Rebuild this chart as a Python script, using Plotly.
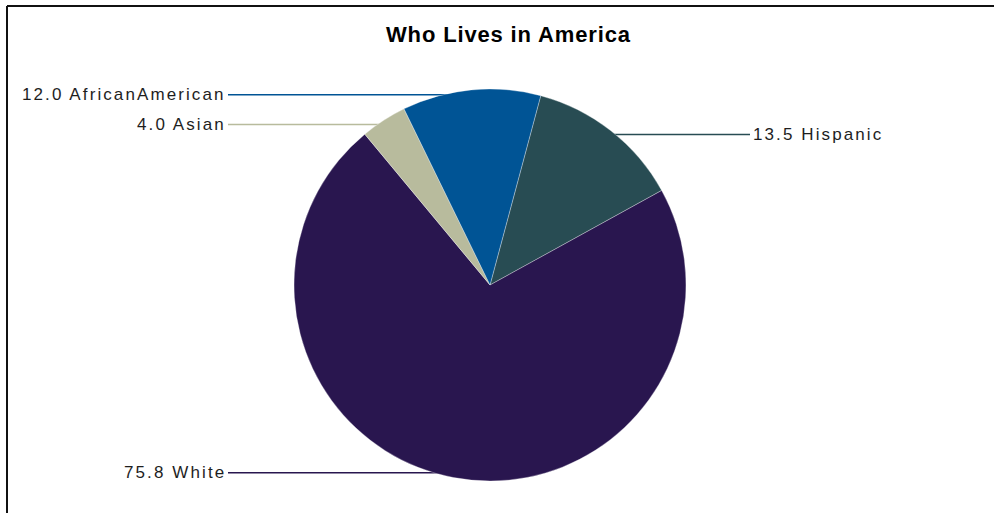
import math
import plotly.graph_objects as go

categories = ["Hispanic", "White", "Asian", "AfricanAmerican"]
values = [13.5, 75.8, 4.0, 12.0]
colors = ["#284c53", "#29164f", "#b8bb9d", "#005495"]
label_side = ["right", "left", "left", "left"]
title_text = "Who Lives in America"

W, H = 994, 513
cx, cy = 490, 285          # pie centre (px, from top)
R = 196                    # pie radius (px)
rotation = 15
left_col, right_col = 228, 750
label_r = 0.975

fig = go.Figure()
fig.add_trace(go.Pie(
    labels=categories, values=values, sort=False, direction="clockwise",
    rotation=rotation, textinfo="none", hoverinfo="label+value",
    marker=dict(colors=colors, line=dict(color="rgba(255,255,255,0.45)", width=0.7)),
    domain=dict(x=[(cx - R) / W, (cx + R) / W], y=[(H - cy - R) / H, (H - cy + R) / H]),
    showlegend=False,
))

shapes = []
annotations = []
total = sum(values)
start = rotation
for cat, v, col, side in zip(categories, values, colors, label_side):
    span = v / total * 360
    mid = math.radians(start + span / 2)
    start += span
    px = cx + R * math.sin(mid)
    py = cy - R * label_r * math.cos(mid)
    ex = left_col if side == "left" else right_col
    shapes.append(dict(type="line", xref="paper", yref="paper",
                       x0=ex / W, x1=px / W, y0=1 - py / H, y1=1 - py / H,
                       line=dict(color=col, width=1.5), layer="below"))
    annotations.append(dict(
        x=(ex + (0 if side == "left" else 1)) / W, y=1 - py / H, xref="paper", yref="paper",
        xanchor="right" if side == "left" else "left", yanchor="middle", showarrow=False,
        text='<span style="letter-spacing:2.1px">%.1f %s</span>' % (v, cat),
        font=dict(family="Liberation Sans, Arial, sans-serif", size=17, color="#1e1e1e"),
    ))

annotations.append(dict(
    x=508 / W, y=1 - 35 / H, xref="paper", yref="paper", xanchor="center", yanchor="middle",
    showarrow=False,
    text='<b><span style="letter-spacing:0.85px">%s</span></b>' % title_text,
    font=dict(family="Liberation Sans, Arial, sans-serif", size=22, color="#000000"),
))

# page frame (top and left borders)
shapes.append(dict(type="line", xref="paper", yref="paper", x0=7 / W, x1=1, y0=1 - 6 / H, y1=1 - 6 / H,
                   line=dict(color="#111111", width=2)))
shapes.append(dict(type="line", xref="paper", yref="paper", x0=7 / W, x1=7 / W, y0=0, y1=1 - 6 / H,
                   line=dict(color="#111111", width=2)))

fig.update_layout(
    width=W, height=H, autosize=False,
    margin=dict(l=0, r=0, t=0, b=0),
    paper_bgcolor="white", plot_bgcolor="white",
    shapes=shapes, annotations=annotations,
)
fig.write_html("out.html", config={"displayModeBar": False},
               post_script="document.body.style.margin='0';document.body.style.overflow='hidden';")
